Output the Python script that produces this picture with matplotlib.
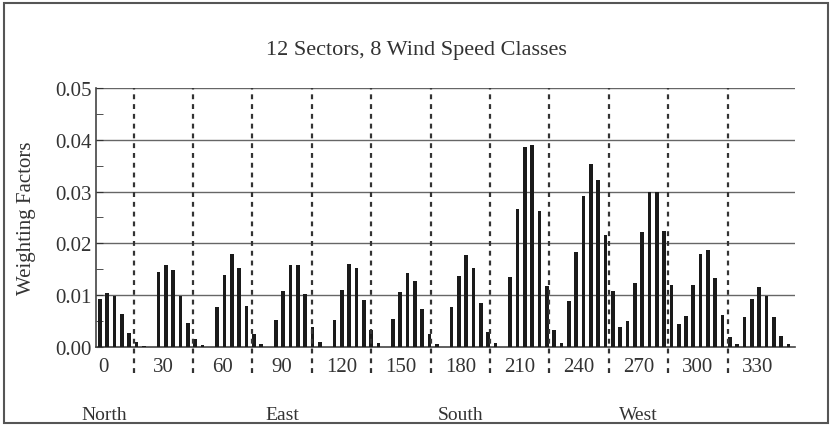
import numpy as np
import matplotlib
matplotlib.use("Agg")
import matplotlib.pyplot as plt
from matplotlib.patches import Rectangle
from matplotlib.ticker import MultipleLocator

# weighting factor per sector (deg) and wind speed class (8 classes each)
sectors = [0, 30, 60, 90, 120, 150, 180, 210, 240, 270, 300, 330]
weights = [
    [0.0092, 0.0105, 0.0099, 0.0064, 0.0027, 0.0009, 0.0002, 0.0],     # 0
    [0.0144, 0.0158, 0.0148, 0.0098, 0.0046, 0.0015, 0.0004, 0.0],     # 30
    [0.0078, 0.0139, 0.0180, 0.0152, 0.0080, 0.0025, 0.0006, 0.0],     # 60
    [0.0053, 0.0109, 0.0159, 0.0159, 0.0102, 0.0039, 0.0010, 0.0],     # 90
    [0.0053, 0.0111, 0.0160, 0.0153, 0.0091, 0.0032, 0.0007, 0.0],     # 120
    [0.0055, 0.0106, 0.0142, 0.0128, 0.0073, 0.0025, 0.0006, 0.0],     # 150
    [0.0078, 0.0138, 0.0178, 0.0153, 0.0085, 0.0028, 0.0007, 0.0],     # 180
    [0.0136, 0.0267, 0.0386, 0.0389, 0.0262, 0.0117, 0.0033, 0.0007],  # 210
    [0.0088, 0.0183, 0.0292, 0.0354, 0.0323, 0.0217, 0.0108, 0.0039],  # 240
    [0.0051, 0.0123, 0.0222, 0.0299, 0.0299, 0.0224, 0.0119, 0.0044],  # 270
    [0.0059, 0.0120, 0.0180, 0.0187, 0.0133, 0.0062, 0.0020, 0.0006],  # 300
    [0.0057, 0.0093, 0.0115, 0.0099, 0.0057, 0.0021, 0.0005, 0.0],     # 330
]
directions = ["North", "East", "South", "West"]
direction_pos = [0, 90, 180, 270]

SERIF = ["Liberation Serif", "DejaVu Serif"]
plt.rcParams['font.family'] = SERIF


def main():
    fig = plt.figure(figsize=(8.32, 4.27), dpi=100)
    ax = fig.add_axes([0.1154, 0.185, 0.84, 0.6066])

    vals = np.array(weights).ravel()
    step = 3.7  # degrees between neighbouring bars
    xs = -2.0 + step * np.arange(len(vals))
    ax.bar(xs, vals, width=step * 0.5, color="#1a1a1a", zorder=3)

    ax.set_xlim(-4, 349)
    ax.set_ylim(0, 0.05)

    # horizontal grid
    for y in [0.01, 0.02, 0.03, 0.04, 0.05]:
        ax.axhline(y, color="#666666", lw=1.0, zorder=1)

    # dashed sector boundaries, reaching down into tick label row
    trans = ax.get_xaxis_transform()
    for s in sectors[:-1]:
        ax.plot([s + 15, s + 15], [-0.1, 1.0], transform=trans,
                color="#333333", lw=1.6, ls=(0, (2.2, 2.2)),
                clip_on=False, zorder=4)

    ax.set_xticks(sectors)
    ax.set_xticklabels([str(s) for s in sectors])
    ax.tick_params(axis='x', length=0, pad=7, labelsize=15, colors="#333333")

    ax.yaxis.set_major_locator(MultipleLocator(0.01))
    ax.yaxis.set_minor_locator(MultipleLocator(0.005))
    ax.set_yticklabels(["%.2f" % t for t in ax.get_yticks()])
    ax.tick_params(axis='y', which='both', direction='in', labelsize=15,
                   colors="#333333", pad=3)
    ax.tick_params(axis='y', which='major', length=5)
    ax.tick_params(axis='y', which='minor', length=5)
    ax.set_ylabel("Weighting Factors", fontsize=15, color="#333333", labelpad=14)

    for side in ['right', 'top']:
        ax.spines[side].set_visible(False)
    for side in ['left', 'bottom']:
        ax.spines[side].set_color("#444444")
        ax.spines[side].set_linewidth(1.2)

    for name, pos in zip(directions, direction_pos):
        ax.text(pos, -0.26, name, transform=trans, ha='center', va='center',
                fontsize=14, color="#333333")

    fig.text(0.5, 1 - 50 / 427, "12 Sectors, 8 Wind Speed Classes",
             ha='center', va='center', fontsize=16, color="#333333")

    # frame around the whole picture
    fig.patches.append(Rectangle((4 / 832, 3 / 427), 824 / 832, 420 / 427,
                                 transform=fig.transFigure, fill=False,
                                 edgecolor="#555555", lw=1.5))

    fig.savefig("out.png", dpi=100)


if __name__ == "__main__":
    main()
